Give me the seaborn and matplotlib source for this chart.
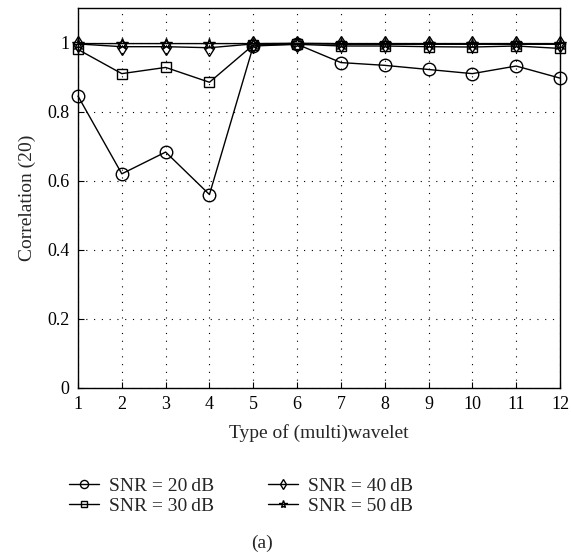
import numpy as np
import pandas as pd
import seaborn as sns
import matplotlib.pyplot as plt
from matplotlib.ticker import FuncFormatter

# data
wavelet = list(range(1, 13))
snr_labels = ['SNR = 20\u2009dB', 'SNR = 30\u2009dB', 'SNR = 40\u2009dB', 'SNR = 50\u2009dB']
snr20 = [0.845, 0.620, 0.683, 0.560, 0.990, 0.995, 0.942, 0.934, 0.922, 0.910, 0.932, 0.897]
snr30 = [0.980, 0.910, 0.928, 0.885, 0.993, 0.995, 0.990, 0.990, 0.988, 0.987, 0.990, 0.983]
snr40 = [0.996, 0.988, 0.988, 0.985, 0.996, 0.997, 0.995, 0.995, 0.995, 0.995, 0.995, 0.995]
snr50 = [0.997, 0.997, 0.997, 0.997, 0.997, 0.998, 0.997, 0.997, 0.997, 0.997, 0.997, 0.997]
markers = ['o', 's', 'd', '*']
msizes = [9, 7, 8, 9]

sns.set_style("ticks")
plt.rcParams['font.family'] = ['Liberation Serif', 'DejaVu Serif']
plt.rcParams['xtick.direction'] = 'in'
plt.rcParams['ytick.direction'] = 'in'

fig = plt.figure(figsize=(5.71, 5.58), dpi=100)
ax = fig.add_axes([78 / 571, 1 - 388 / 558, (560 - 78) / 571, (388 - 8) / 558])

for vals, lab, m, ms in zip([snr20, snr30, snr40, snr50], snr_labels, markers, msizes):
    sns.lineplot(x=wavelet, y=vals, ax=ax, color='black', linewidth=1.0, marker=m,
                 markersize=ms, markerfacecolor='none', markeredgecolor='black',
                 markeredgewidth=1.0, label=lab, clip_on=False)

ax.set_xlim(1, 12)
ax.set_ylim(0, 1.1)
ax.set_xticks(wavelet)
ax.set_yticks([0, 0.2, 0.4, 0.6, 0.8, 1.0])
ax.yaxis.set_major_formatter(FuncFormatter(lambda v, p: '0' if v == 0 else ('1' if v == 1 else f'{v:.1f}')))
ax.grid(True, color='black', linestyle=(0, (1, 6)), linewidth=0.8)
for s in ax.spines.values():
    s.set_color('black')
    s.set_linewidth(1.0)
ax.tick_params(labelsize=13, colors='black', length=4, pad=6)
ax.set_xlabel('Type of (multi)wavelet', fontsize=14, labelpad=8)
ax.set_ylabel('Correlation (20)', fontsize=14, labelpad=8)

h, l = ax.get_legend_handles_labels()
ax.legend_.remove()
fig.legend(h, l, loc='center', bbox_to_anchor=(241 / 571, 1 - 496 / 558), ncol=2,
           frameon=False, fontsize=14, handlelength=1.55, columnspacing=2.8,
           labelspacing=0.1, handletextpad=0.5, markerscale=0.65)
fig.text(262 / 571, 1 - 543 / 558, '(a)', ha='center', va='center', fontsize=14)

fig.savefig('out.png', dpi=100)
